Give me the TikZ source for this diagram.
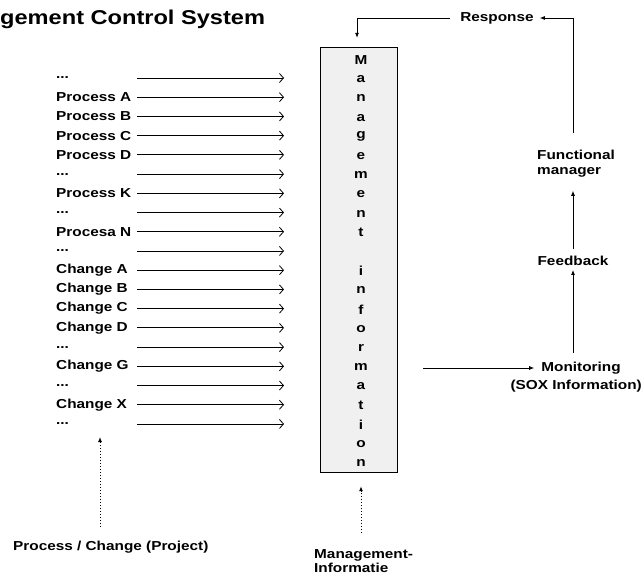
\documentclass[tikz,border=0pt]{standalone}
\usepackage{fontspec}
\setmainfont{Liberation Sans}[FakeStretch=1.18]
\usetikzlibrary{arrows.meta,positioning,calc}
\newcommand\rowdots{...}

\begin{document}
\begin{tikzpicture}[x=1pt,y=-1pt,
    lbl/.style={font=\bfseries\fontsize{13}{15}\selectfont,inner sep=1pt},
    row/.style={-{Straight Barb[length=4pt,width=9pt]},line width=0.8pt},
    farr/.style={-{Latex[length=5pt,width=4pt]},line width=0.8pt},
    dotarr/.style={-{Latex[length=5pt,width=4pt]},line width=1pt,dotted},
    mibox/.style={draw,line width=1.4pt,fill=gray!12,
                  minimum width=77pt,minimum height=425pt}
  ]
  \useasboundingbox (0,0) rectangle (644,575);
  \node[lbl,font=\bfseries\fontsize{20}{24}\selectfont,anchor=west,inner sep=0]
    (title) at (0,19) {gement Control System};

  % processes and changes
  \foreach \t [count=\i] in {\rowdots,Process A,Process B,Process C,Process D,
      \rowdots,Process K,\rowdots,Procesa N,\rowdots,Change A,Change B,Change C,
      Change D,\rowdots,Change G,\rowdots,Change X,\rowdots} {
    \node[lbl,anchor=west] (r\i) at (55,{78+19.22*(\i-1)}) {\t};
    \coordinate (a\i) at (137,{78+19.22*(\i-1)});
    \coordinate (b\i) at (284,{78+19.22*(\i-1)});
    \draw[row] (a\i) -- (b\i);
  }

  % management information
  \node[mibox] (mi) at (359,260) {};
  \foreach \c [count=\i] in {M,a,n,a,g,e,m,e,n,t,{},i,n,f,o,r,m,a,t,i,o,n}
    \node[lbl] (m\i) at (361,{60+19.2*(\i-1)}) {\c};

  \node[lbl] (resp) at (497,18) {Response};
  \node[lbl,align=left] (fm) at (576,164) {Functional\\manager};
  \node[lbl] (fb) at (573,261) {Feedback};
  \node[lbl] (mon) at (581,368) {Monitoring};
  \node[lbl,anchor=east,inner sep=0] (sox) at (642,386) {(SOX Information)};

  \draw[farr,shorten >=6pt] ([xshift=25pt]mi.east |- mon.west) -- (mon.west);
  \draw[farr,shorten <=8pt,shorten >=3pt] (mon.north -| fb.south) -- (fb.south);
  \draw[farr,shorten <=6pt,shorten >=12pt] (fb.north) -- (fb.north |- fm.south);
  \draw[farr,shorten <=16pt,shorten >=5pt] (fb.north |- fm.north) |- (resp.east);
  \draw[farr,shorten <=9pt,shorten >=9pt] (resp.west) -| ([xshift=-2pt]mi.north);

  % bottom labels
  \node[lbl,anchor=west] (pc) at (12,547) {Process / Change (Project)};
  \node[lbl,align=left,anchor=north west,font=\bfseries\fontsize{13}{14}\selectfont]
    (mgi) at (313,548) {Management-\\Informatie};
  \coordinate (pcu) at (100,437);
  \draw[dotarr,shorten <=13pt] (pcu |- pc.north) -- (pcu);
  \draw[dotarr,shorten <=15pt,shorten >=13pt] (mgi.north -| m1) -- (mi.south -| m1);
\end{tikzpicture}
\end{document}
